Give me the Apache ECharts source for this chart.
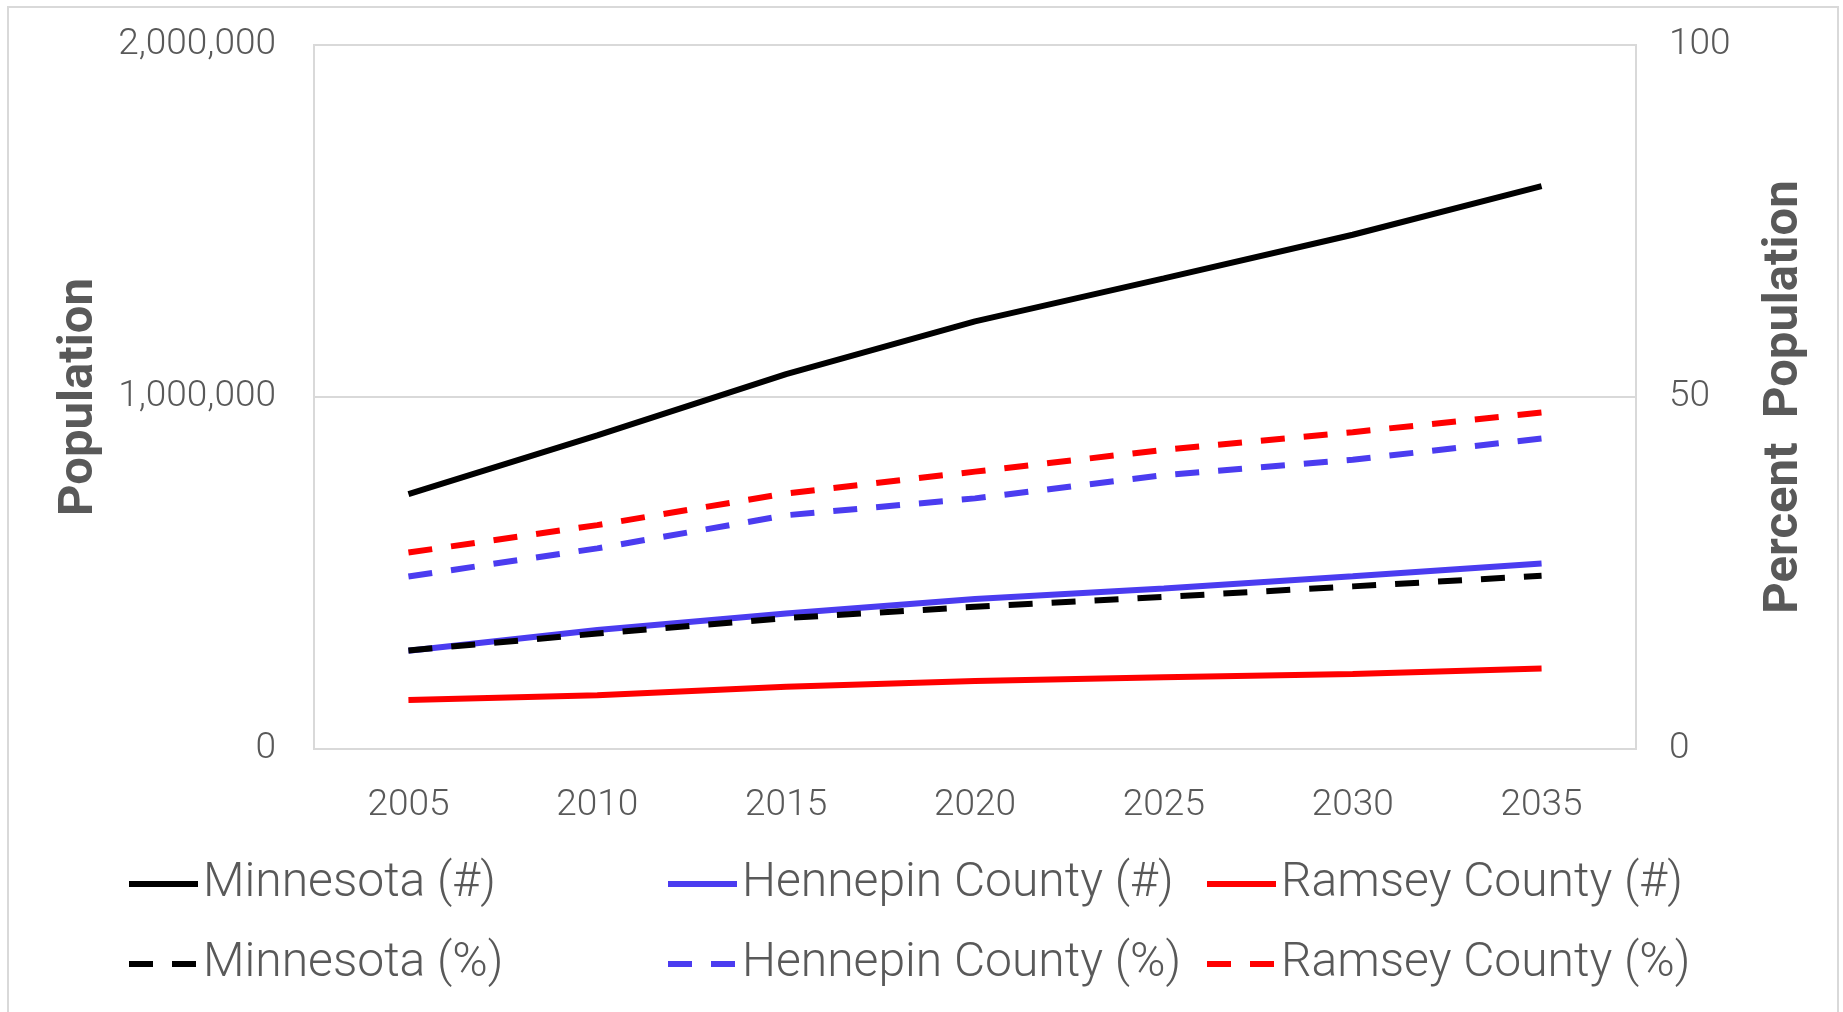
<!DOCTYPE html>
<html>
<head>
<meta charset="utf-8">
<script src="https://cdn.jsdelivr.net/npm/echarts@6/dist/echarts.min.js"></script>
<style>
  html, body { margin: 0; padding: 0; background: #fff; }
  #chart { width: 1843px; height: 1012px; }
</style>
</head>
<body>
<div id="chart"></div>
<script>
const years = ['2005', '2010', '2015', '2020', '2025', '2030', '2035']

// population counts (left axis)
const minnesotaCount = [724000, 891000, 1065000, 1215000, 1337000, 1461000, 1599000]
const hennepinCount = [279000, 338000, 385000, 426000, 456000, 491000, 527000]
const ramseyCount = [139000, 153000, 177000, 193000, 204000, 213000, 229000]

// percent of population (right axis)
const minnesotaPct = [14.0, 16.4, 18.6, 20.2, 21.6, 23.1, 24.6]
const hennepinPct = [24.5, 28.5, 33.2, 35.6, 38.9, 41.1, 44.1]
const ramseyPct = [27.9, 31.8, 36.3, 39.4, 42.5, 45.0, 47.8]

const BLACK = '#000000'
const BLUE = '#4b3cf0'
const RED = '#ff0000'
const GRAY = '#595959'
const FONT = 'Roboto'

const chart = echarts.init(document.getElementById('chart'))

function line(name, data, color, dashed, axis) {
  return {
    name: name,
    type: 'line',
    data: data,
    yAxisIndex: axis,
    symbol: 'none',
    smooth: false,
    lineStyle: { color: color, width: 6, type: dashed ? [24, 19] : 'solid', cap: 'butt' },
    itemStyle: { color: color },
    emphasis: { disabled: true },
  }
}

// one legend per cell so columns line up like the original
const legendCells = [
  { name: 'Minnesota (#)', left: 126, top: 860 },
  { name: 'Hennepin County (#)', left: 665, top: 860 },
  { name: 'Ramsey County (#)', left: 1204, top: 860 },
  { name: 'Minnesota (%)', left: 126, top: 940 },
  { name: 'Hennepin County (%)', left: 665, top: 940 },
  { name: 'Ramsey County (%)', left: 1204, top: 940 },
]

chart.setOption({
  animation: false,
  backgroundColor: '#fff',
  graphic: [{
    type: 'rect',
    shape: { x: 8, y: 7, width: 1830, height: 1100 },
    style: { fill: 'none', stroke: '#d9d9d9', lineWidth: 2 },
    silent: true,
  }],
  grid: {
    left: 314, right: 207, top: 45, bottom: 263,
    show: true, borderColor: '#d9d9d9', borderWidth: 2,
  },
  legend: legendCells.map(c => ({
    data: [c.name],
    left: c.left,
    top: c.top,
    padding: 0,
    itemWidth: 69,
    itemHeight: 14,
    selectedMode: false,
    itemStyle: { opacity: 0 },
    lineStyle: { width: 6 },
    textStyle: { color: GRAY, fontSize: 48, fontFamily: FONT, fontWeight: 300 },
  })),
  xAxis: {
    type: 'category',
    data: years,
    boundaryGap: true,
    axisLine: { lineStyle: { color: '#d9d9d9', width: 2 } },
    axisTick: { show: false },
    axisLabel: { color: GRAY, fontSize: 37, fontFamily: FONT, fontWeight: 300, margin: 38 },
  },
  yAxis: [{
    type: 'value',
    min: 0, max: 2000000, interval: 1000000,
    name: 'Population',
    nameLocation: 'middle',
    nameGap: 210,
    nameTextStyle: { color: GRAY, fontSize: 49, fontFamily: FONT, fontWeight: 'bold' },
    axisLine: { show: false },
    axisTick: { show: false },
    splitLine: { lineStyle: { color: '#d9d9d9', width: 2 } },
    axisLabel: {
      color: GRAY, fontSize: 37, fontFamily: FONT, fontWeight: 300, margin: 38,
      formatter: v => v.toLocaleString('en-US'),
    },
  }, {
    type: 'value',
    min: 0, max: 100, interval: 50,
    name: 'Percent  Population',
    nameLocation: 'middle',
    nameGap: 124,
    nameTextStyle: { color: GRAY, fontSize: 49, fontFamily: FONT, fontWeight: 'bold' },
    axisLine: { show: false },
    axisTick: { show: false },
    splitLine: { show: false },
    axisLabel: { color: GRAY, fontSize: 37, fontFamily: FONT, fontWeight: 300, margin: 33 },
  }],
  series: [
    line('Minnesota (#)', minnesotaCount, BLACK, false, 0),
    line('Hennepin County (#)', hennepinCount, BLUE, false, 0),
    line('Ramsey County (#)', ramseyCount, RED, false, 0),
    line('Minnesota (%)', minnesotaPct, BLACK, true, 1),
    line('Hennepin County (%)', hennepinPct, BLUE, true, 1),
    line('Ramsey County (%)', ramseyPct, RED, true, 1),
  ],
})

window.addEventListener('resize', () => chart.resize())
</script>
</body>
</html>
